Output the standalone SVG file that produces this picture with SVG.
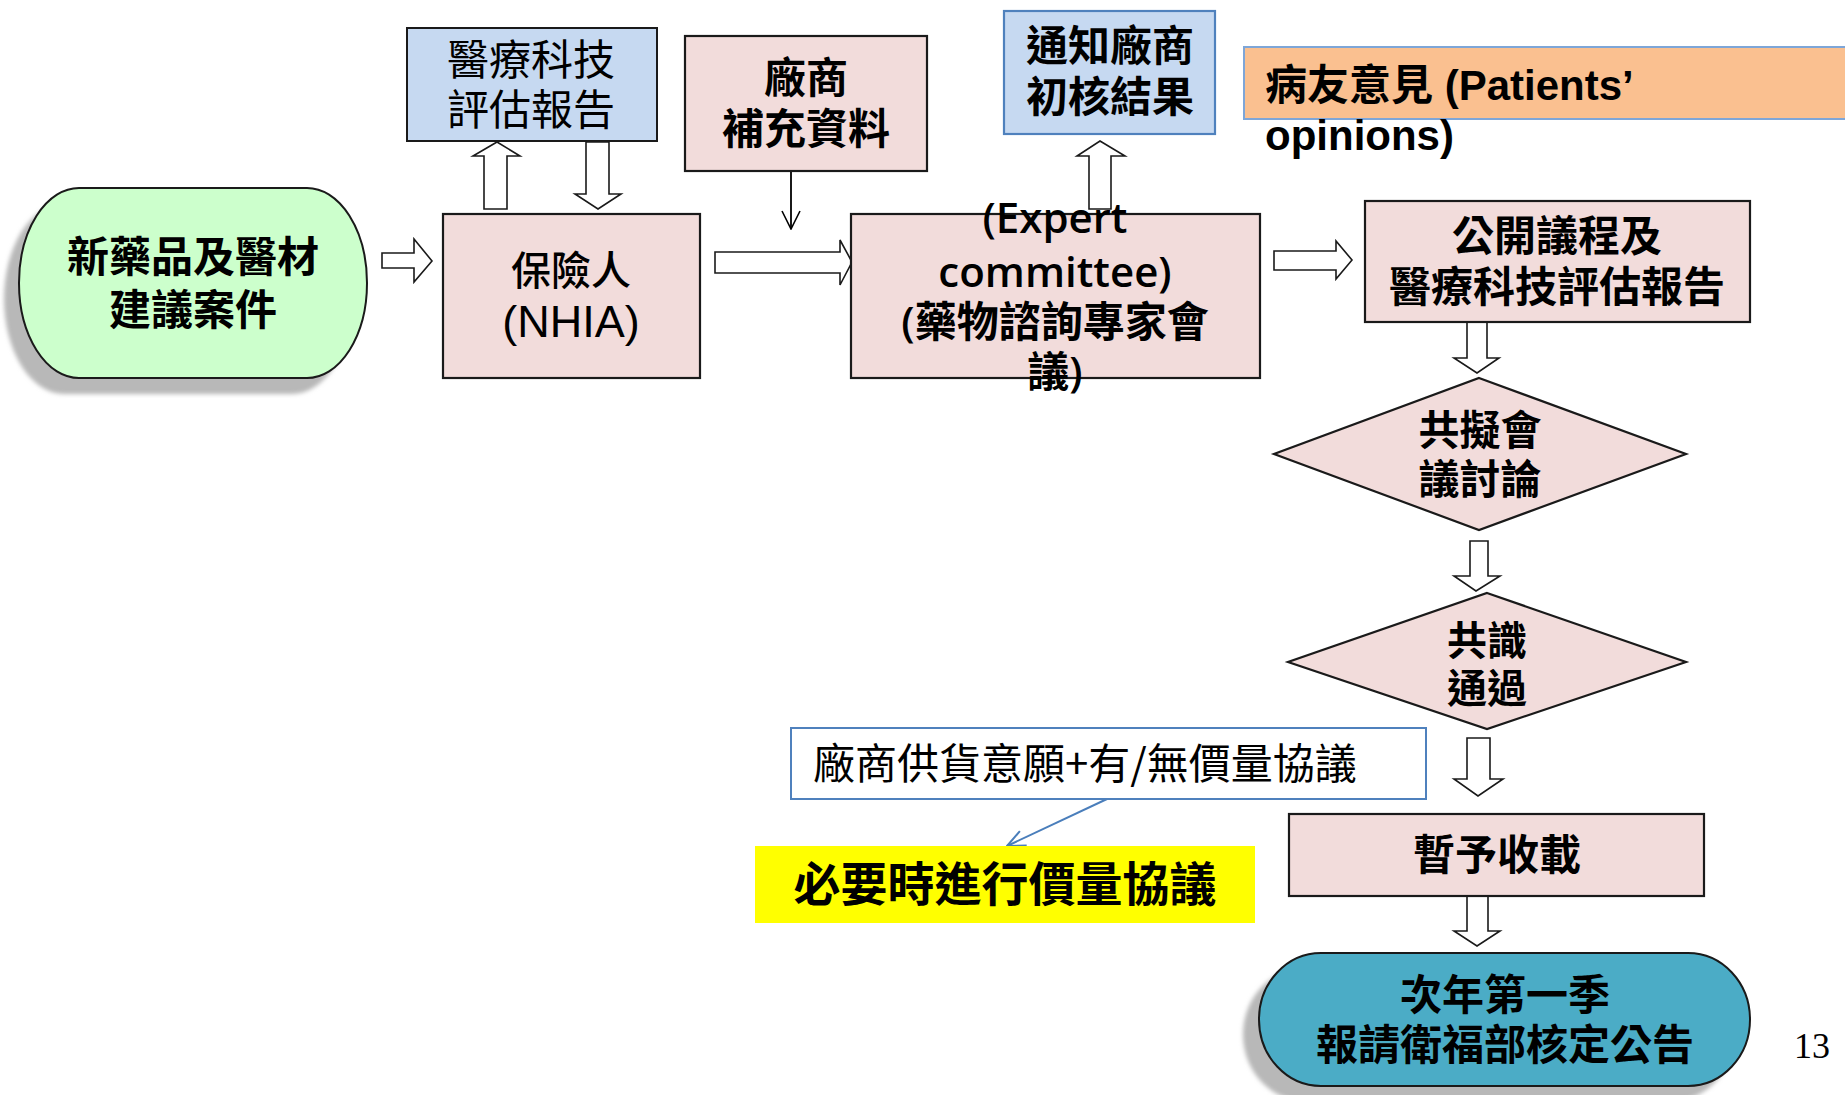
<svg xmlns="http://www.w3.org/2000/svg" width="1845" height="1095" viewBox="0 0 1845 1095">
<defs>
<style>
.box{fill:#f2dcdb;stroke:#1a1a1a;stroke-width:2.2}
.blue{fill:#c6d9f1}
.harrow{fill:#ffffff;stroke:#1a1a1a;stroke-width:1.6;stroke-linejoin:miter}
.t{font-family:"Noto Sans CJK TC","Noto Sans CJK SC",sans-serif;font-size:42px;fill:#000;text-anchor:middle}
.b{font-weight:bold}
.m{font-weight:500}
.st{text-anchor:start}
.lat{font-family:"Liberation Sans","Noto Sans CJK TC",sans-serif}
.os{font-family:"Open Sans","Noto Sans CJK TC",sans-serif;font-weight:600}
</style>
<marker id="ahBlack" viewBox="0 0 20 20" refX="19" refY="10" markerWidth="20" markerHeight="20" markerUnits="userSpaceOnUse" orient="auto">
<path d="M1,1 L19,10 L1,19" fill="none" stroke="#000" stroke-width="1.6"/>
</marker>
<marker id="ahBlue" viewBox="0 0 20 20" refX="19" refY="10" markerWidth="20" markerHeight="20" markerUnits="userSpaceOnUse" orient="auto">
<path d="M1,2 L19,10 L1,18" fill="none" stroke="#4a7ebb" stroke-width="2"/>
</marker>
<filter id="soft" x="-10%" y="-10%" width="120%" height="120%"><feGaussianBlur stdDeviation="2"/></filter>
</defs>
<rect width="1845" height="1095" fill="#ffffff"/>

<g id="connectors">
<polygon class="harrow" points="382,253 414,253 414,239 432,261 414,282 414,268 382,268"/>
<polygon class="harrow" points="484,209 484,156 473,156 497,142 520,156 507,156 507,209"/>
<polygon class="harrow" points="586,142 609,142 609,194 621,194 598,209 575,194 586,194"/>
<line x1="791" y1="171" x2="791" y2="229" stroke="#000" stroke-width="1.8" marker-end="url(#ahBlack)"/>
<polygon class="harrow" points="715,252 840,252 840,240 852,262 840,285 840,273 715,273"/>
<polygon class="harrow" points="1089,209 1089,156 1077,156 1100,141 1125,156 1111,156 1111,209"/>
<polygon class="harrow" points="1274,251 1336,251 1336,241 1352,260 1336,279 1336,270 1274,270"/>
<polygon class="harrow" points="1467,322 1487,322 1487,358 1499,358 1477,373 1454,358 1467,358"/>
<polygon class="harrow" points="1470,541 1488,541 1488,576 1500,576 1476,591 1454,576 1470,576"/>
<polygon class="harrow" points="1467,738 1490,738 1490,779 1503,779 1478,796 1454,779 1467,779"/>
<polygon class="harrow" points="1467,896 1488,896 1488,931 1500,931 1477,946 1454,931 1467,931"/>
<line x1="1107" y1="799" x2="1007" y2="846" stroke="#4a7ebb" stroke-width="2" marker-end="url(#ahBlue)"/>
</g>

<g id="node-start">
<rect x="4" y="204" width="348" height="190" rx="60" ry="95" fill="#b8b8b8" filter="url(#soft)"/>
<rect x="19" y="188" width="348" height="190" rx="60" ry="95" fill="#ccffcc" stroke="#1a1a1a" stroke-width="2"/>
<text class="t b" x="193" y="272">新藥品及醫材</text>
<text class="t b" x="193" y="325">建議案件</text>
</g>

<g id="node-nhia">
<rect class="box" x="443" y="214" width="257" height="164"/>
<text class="t m" x="571" y="285" style="font-size:40px">保險人</text>
<text class="t lat" x="571" y="337" style="font-size:45px">(NHIA)</text>
</g>

<g id="node-hta">
<rect class="blue" x="407" y="28" width="250" height="113" stroke="#1a1a1a" stroke-width="2"/>
<text class="t" x="531" y="75">醫療科技</text>
<text class="t" x="531" y="125">評估報告</text>
</g>

<g id="node-supplement">
<rect class="box" x="685" y="36" width="242" height="135"/>
<text class="t b" x="806" y="93">廠商</text>
<text class="t b" x="806" y="144">補充資料</text>
</g>

<g id="node-expert">
<rect class="box" x="851" y="214" width="409" height="164"/>
<text class="t os" x="1055" y="233">(Expert</text>
<text class="t os" x="1055" y="287">committee)</text>
<text class="t os" x="1055" y="337">(藥物諮詢專家會</text>
<text class="t os" x="1055" y="387">議)</text>
</g>

<g id="node-notify">
<rect class="blue" x="1004" y="11" width="211" height="123" stroke="#4f81bd" stroke-width="2.2"/>
<text class="t b" x="1110" y="61">通知廠商</text>
<text class="t b" x="1110" y="112">初核結果</text>
</g>

<g id="node-patients">
<rect x="1244" y="47" width="610" height="72" fill="#fac090" stroke="#7ea6d8" stroke-width="2"/>
<text class="t b lat st" x="1265" y="100">病友意見 (Patients’</text>
<text class="t b lat st" x="1265" y="150">opinions)</text>
</g>

<g id="node-public">
<rect class="box" x="1365" y="201" width="385" height="121"/>
<text class="t b" x="1557" y="251">公開議程及</text>
<text class="t b" x="1557" y="302">醫療科技評估報告</text>
</g>

<g id="node-joint">
<polygon class="box" points="1479,378 1686,454 1479,530 1274,454"/>
<text class="t b" x="1480" y="445" style="font-size:41px">共擬會</text>
<text class="t b" x="1480" y="494" style="font-size:41px">議討論</text>
</g>

<g id="node-consensus">
<polygon class="box" points="1487,593 1686,662 1487,729 1288,662"/>
<text class="t b" x="1487" y="655" style="font-size:40px">共識</text>
<text class="t b" x="1487" y="703" style="font-size:40px">通過</text>
</g>

<g id="node-willing">
<rect x="791" y="728" width="635" height="71" fill="#ffffff" stroke="#4f81bd" stroke-width="2"/>
<text class="t st" x="813" y="779">廠商供貨意願+有/無價量協議</text>
</g>

<g id="node-negotiate">
<rect x="755" y="846" width="500" height="77" fill="#ffff00"/>
<text class="t b" x="1005" y="901" style="font-size:47px">必要時進行價量協議</text>
</g>

<g id="node-listed">
<rect class="box" x="1289" y="814" width="415" height="82"/>
<text class="t b" x="1497" y="870">暫予收載</text>
</g>

<g id="node-announce">
<rect x="1243" y="968" width="491" height="133" rx="62" ry="66.5" fill="#b8b8b8" filter="url(#soft)"/>
<rect x="1259" y="953" width="491" height="133" rx="62" ry="66.5" fill="#4bacc6" stroke="#1a1a1a" stroke-width="2"/>
<text class="t b" x="1505" y="1010">次年第一季</text>
<text class="t b" x="1505" y="1060">報請衛福部核定公告</text>
</g>

<text x="1794" y="1058" font-family="'Liberation Serif',serif" font-size="36" fill="#000">13</text>
</svg>
